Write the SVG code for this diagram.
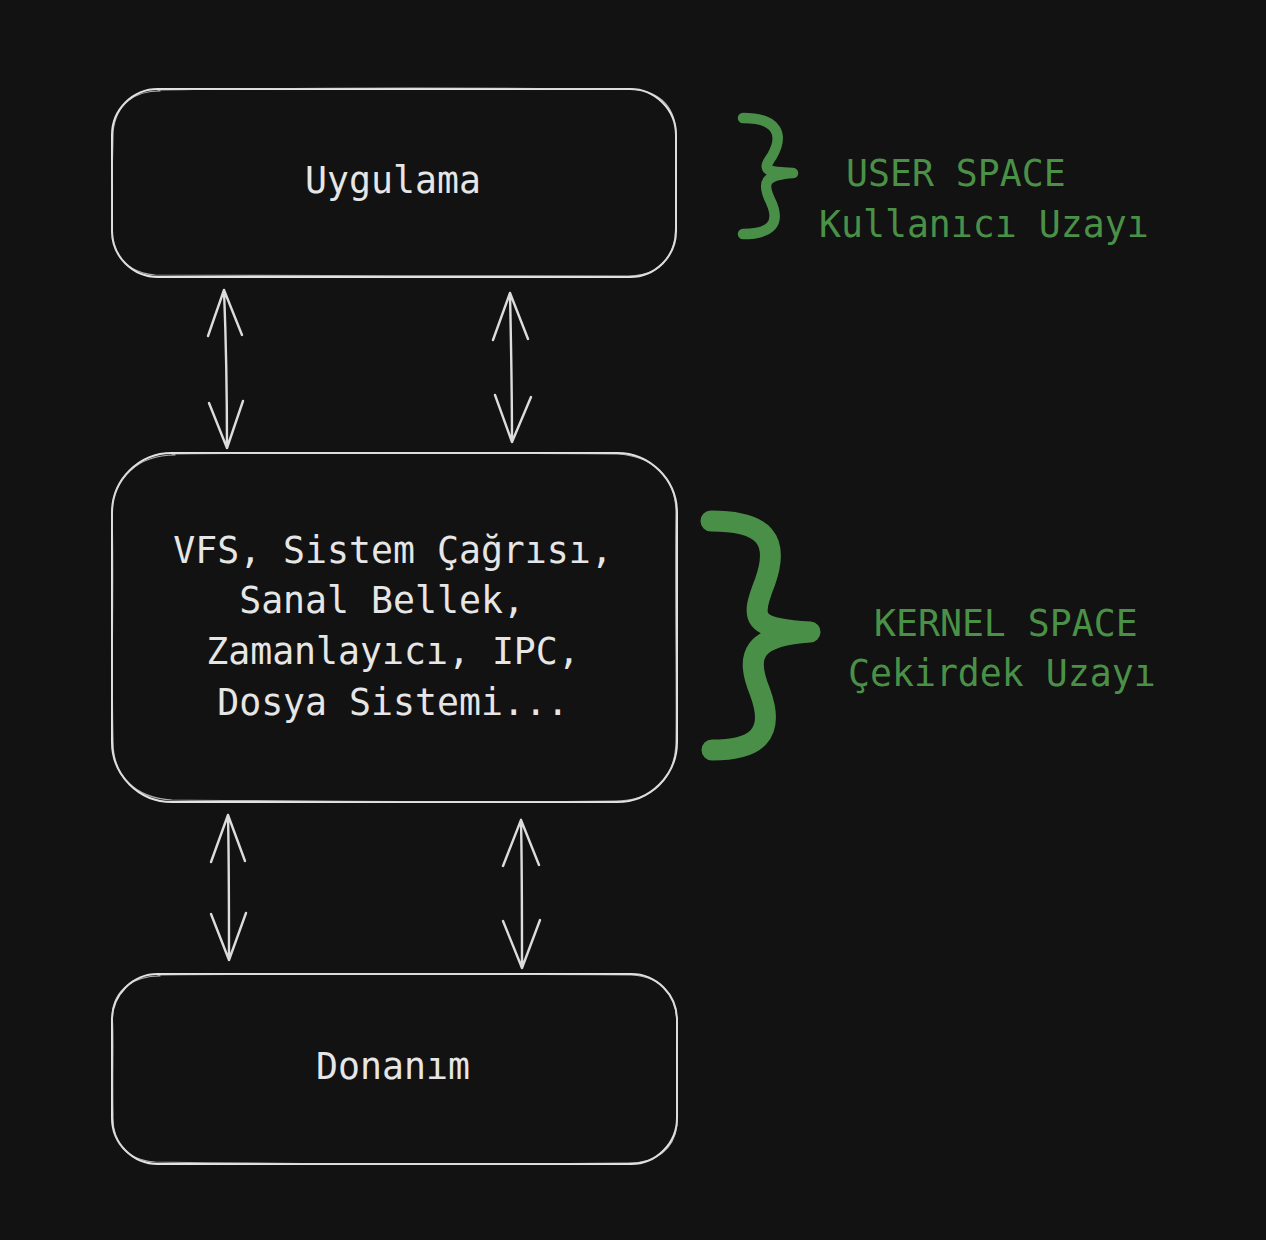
<svg xmlns="http://www.w3.org/2000/svg" width="1266" height="1240" viewBox="0 0 1266 1240">
<style>
.box{fill:#121212;stroke:#e3e3e3;stroke-width:2;stroke-linecap:round}
.box2{fill:none;stroke:#d6d6d6;stroke-width:1.2;stroke-linecap:round;opacity:0.8}
.t{font-family:"DejaVu Sans Mono","Liberation Mono",monospace;font-size:36.5px;fill:#e6e6e6;text-anchor:middle}
.g{font-family:"DejaVu Sans Mono","Liberation Mono",monospace;font-size:36.5px;fill:#4a9147}
.arr{fill:none;stroke:#dcdcdc;stroke-width:2.4;stroke-linecap:round;stroke-linejoin:round}
.brace{fill:none;stroke:#4a8f47;stroke-linecap:round;stroke-linejoin:round}
</style>
<rect width="1266" height="1240" fill="#121212"/>
<g id="node-uygulama">
<rect class="box" x="112" y="89" width="564" height="188" rx="46"/>
<path class="box2" d="M158,90 C330,87 500,88 632,89 C665,92 677,112 676,140 C675,180 677,220 675,238 C670,266 652,276 628,276 C480,277 300,275 155,275 C125,272 113,255 112,230 C111,190 113,150 113,132 C116,103 135,91 160,91"/>
<text class="t" x="393" y="193">Uygulama</text>
</g>
<g id="node-kernel">
<rect class="box" x="112" y="453" width="565" height="349" rx="60"/>
<path class="box2" d="M172,454 C330,452 500,453 617,454 C655,456 677,480 676,515 C675,600 677,690 676,745 C674,780 652,801 615,801 C460,803 300,801 172,800 C135,798 113,776 113,742 C111,660 114,580 112,512 C113,478 138,455 175,455"/>
<text class="t" x="393" y="563">VFS, Sistem Çağrısı,</text>
<text class="t" x="382" y="613">Sanal Bellek,</text>
<text class="t" x="393" y="664">Zamanlayıcı, IPC,</text>
<text class="t" x="393" y="715">Dosya Sistemi...</text>
</g>
<g id="node-donanim">
<rect class="box" x="112" y="974" width="565" height="190" rx="46"/>
<path class="box2" d="M158,975 C330,973 500,974 632,975 C662,977 677,995 677,1025 C678,1070 676,1110 677,1125 C674,1150 656,1163 628,1163 C470,1165 300,1164 155,1162 C126,1160 112,1142 113,1115 C112,1070 114,1030 112,1015 C114,989 134,976 160,976"/>
<text class="t" x="393" y="1079">Donanım</text>
</g>
<g id="connectors">
<path class="arr" d="M224,290 C226,340 227,400 227,448 M224,290 L208,336 M224,290 L242,335 M227,448 L209,403 M227,448 L243,401"/>
<path class="arr" d="M510,293 C511,340 512,400 512,442 M510,293 L493,340 M510,293 L528,339 M512,442 L495,395 M512,442 L531,397"/>
<path class="arr" d="M228,815 C229,860 229,910 229,960 M228,815 L211,862 M228,815 L245,861 M229,960 L211,914 M229,960 L246,913"/>
<path class="arr" d="M521,820 C522,865 522,915 522,968 M521,820 L503,866 M521,820 L539,865 M522,968 L503,921 M522,968 L540,920"/>
</g>
<g id="label-user">
<path class="brace" stroke-width="10.5" d="M743,118 C778,118 784,135 772,156 C762,170 765,172 793,173 C765,175 761,182 771,202 C781,224 770,234 743,234"/>
<text class="g" x="846" y="186">USER SPACE</text>
<text class="g" x="819" y="237">Kullanıcı Uzayı</text>
</g>
<g id="label-kernel">
<path class="brace" stroke-width="21" d="M711,521 C765,521 780,540 765,582 C750,620 752,628 810,632 C752,636 745,655 760,692 C776,735 756,750 712,750"/>
<text class="g" x="874" y="636">KERNEL SPACE</text>
<text class="g" x="848" y="686">Çekirdek Uzayı</text>
</g>
</svg>
